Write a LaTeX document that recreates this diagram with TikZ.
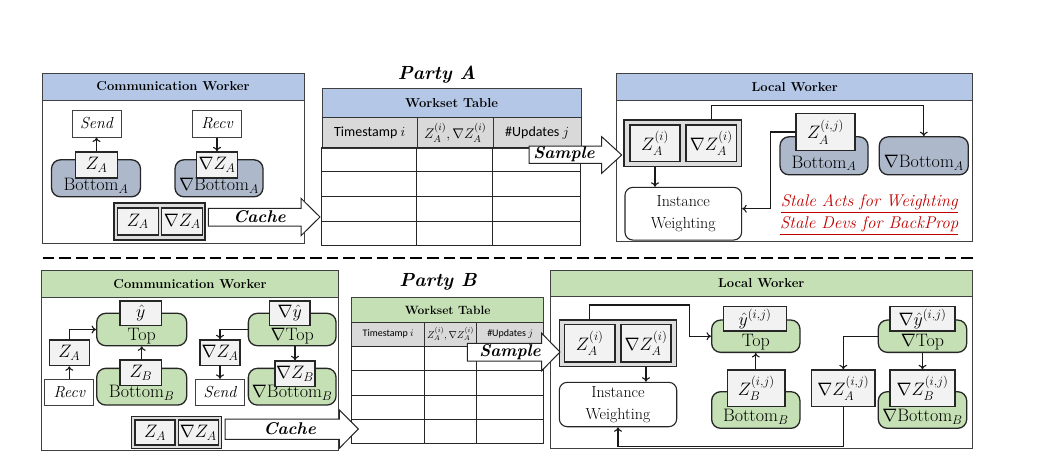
\RequirePackage{fix-cm}
\documentclass[tikz,border=0pt]{standalone}
\usepackage{amsmath, amssymb}
\usepackage{fontspec}
\newfontfamily\calfont{Carlito}
\usepackage{tikz}
\usetikzlibrary{calc, arrows.meta}

\definecolor{hdblue}{HTML}{B4C7E7}
\definecolor{hdgreen}{HTML}{C5E0B4}
\definecolor{blkblue}{HTML}{ADB9CA}
\definecolor{boxfill}{HTML}{F2F2F2}
\definecolor{colgray}{HTML}{D9D9D9}
\definecolor{pairfill}{HTML}{DDDDDD}
\definecolor{stalered}{HTML}{C00000}

\tikzset{
	>={To[length=4.5pt,width=8pt]},
	panel/.style={draw=black!75, line width=0.9pt, fill=white},
	hdr/.style={draw=black!75, line width=0.9pt, font=\fontsize{13}{15}\selectfont\bfseries},
	blk/.style={draw=black!85, line width=1.3pt, rounded corners=9pt},
	blktxt/.style={inner sep=0pt, font=\fontsize{18}{20}\selectfont},
	vbox/.style={draw=black!85, line width=1.3pt, fill=boxfill, inner sep=1pt, font=\fontsize{18}{20}\selectfont},
	tbox/.style={draw=black!75, line width=1pt, fill=white, inner sep=1pt, font=\fontsize{16}{18}\selectfont\itshape},
	pair/.style={draw=black!85, line width=1.3pt, fill=pairfill},
	iwbox/.style={draw=black!85, line width=1.1pt, fill=white, rounded corners=8pt, align=center, font=\fontsize{16}{22}\selectfont},
	conn/.style={->, line width=1.1pt, black!90},
	fatarrow/.style={draw=black!85, line width=1pt, fill=white},
	arrowtxt/.style={inner sep=0pt, font=\fontsize{17}{19}\selectfont\bfseries\itshape},
	title/.style={inner sep=0pt, font=\fontsize{19}{21}\selectfont\bfseries\itshape},
	colhd/.style={draw=black!80, line width=0.9pt, fill=colgray, inner sep=0pt},
	grid/.style={draw=black!85, line width=0.9pt},
	stale/.style={inner sep=0pt, text=stalered, font=\fontsize{17}{19}\selectfont\itshape}
}

\begin{document}
\begin{tikzpicture}[x=1pt, y=-1pt]
\useasboundingbox (0,0) rectangle (1042,472);

%%%% Party A
\node[title] (pA) at (437,75) {Party A};

% communication worker A
\node[panel, minimum width=262pt, minimum height=170pt] (cwA) at (173,158) {};
\node[hdr, fill=hdblue, minimum width=262pt, minimum height=27pt, anchor=north] (cwAh) at (cwA.north) {Communication Worker};

\node[tbox, minimum width=49pt, minimum height=27pt] (sendA) at (96.5,123.5) {Send};
\node[tbox, minimum width=49pt, minimum height=27pt] (recvA) at (217,123.5) {Recv};

\node[blk, fill=blkblue, minimum width=89pt, minimum height=37pt] (botA) at (96,178.3) {};
\node[blktxt] (botAt) at (96,186) {Bottom$_A$};
\node[vbox, minimum width=42pt, minimum height=26pt] (zA) at (96.5,165) {$Z_A$};

\node[blk, fill=blkblue, minimum width=88pt, minimum height=37pt] (nbotA) at (219,178.3) {};
\node[blktxt] (nbotAt) at (219,186) {$\nabla$Bottom$_A$};
\node[vbox, minimum width=41pt, minimum height=26pt] (nzA) at (217,165) {$\nabla Z_A$};

\draw[conn] (zA) -- (sendA);
\draw[conn] (recvA) -- (nzA);

\node[pair, minimum width=91pt, minimum height=37pt] (cpA) at (159.5,221.4) {};
\node[vbox, minimum width=41pt, minimum height=27pt] (cpzA) at (137.8,221.4) {$Z_A$};
\node[vbox, minimum width=41pt, minimum height=27pt] (cpnzA) at (182.2,221.4) {$\nabla Z_A$};

% workset table A
\node[hdr, fill=hdblue, minimum width=259pt, minimum height=29pt, anchor=north west] (wtA) at (321.7,88.3) {Workset Table};
\node[colhd, minimum width=95pt, minimum height=30.4pt, anchor=north west] (tsA) at (321.7,117.3) {\calfont\fontsize{14}{16}\selectfont Timestamp $i$};
\node[colhd, minimum width=76pt, minimum height=30.4pt, anchor=north west] (zcA) at (416.7,117.3) {\fontsize{14}{16}\selectfont $Z_A^{(i)},\nabla Z_A^{(i)}$};
\node[colhd, minimum width=88pt, minimum height=30.4pt, anchor=north west] (upA) at (492.7,117.3) {\calfont\fontsize{14}{16}\selectfont \#Updates $j$};
\draw[grid] (321.7,147.7) rectangle (580.7,245);
\foreach \r in {171.7,196.7,221.7}{
	\draw[grid] (321.7,\r) -- (580.7,\r);
}
\foreach \c in {416.7,492.7}{
	\draw[grid] (\c,147.7) -- (\c,245);
}

% local worker A
\node[panel, minimum width=356pt, minimum height=168.4pt] (lwA) at (794.7,157.5) {};
\node[hdr, fill=hdblue, minimum width=356pt, minimum height=26.7pt, anchor=north] (lwAh) at (lwA.north) {Local Worker};

\node[pair, minimum width=117.7pt, minimum height=46.7pt] (pairA) at (682.8,143.3) {};
\node[vbox, minimum width=50pt, minimum height=36.7pt] (zAi) at (655,143.3) {$Z_A^{(i)}$};
\node[vbox, minimum width=50.7pt, minimum height=36.7pt] (nzAi) at (711.3,143.3) {$\nabla Z_A^{(i)}$};
\node[iwbox, minimum width=116.7pt, minimum height=52.7pt] (iwA) at (683.3,213.7) {Instance\\Weighting};

\node[blk, fill=blkblue, minimum width=88pt, minimum height=38pt] (botAl) at (824,155.8) {};
\node[blktxt] (botAlt) at (824,163.3) {Bottom$_A$};
\node[vbox, minimum width=59pt, minimum height=37.4pt] (zAij) at (825.5,132) {$Z_A^{(i,j)}$};

\node[blk, fill=blkblue, minimum width=89pt, minimum height=38pt] (nbotAl) at (923.8,155.8) {};
\node[blktxt] (nbotAlt) at (923.8,162.5) {$\nabla$Bottom$_A$};

\draw[conn] (pairA.north -| nzAi.north) -- ++(0,-14) -| (nbotAl.north);
\draw[conn] (zAij.west) -- ++(-25,0) |- ([yshift=5pt]iwA.east);
\draw[conn] (pairA.south -| zAi.south) -- (iwA.north -| zAi.south);

\node[stale] (stA1) at (869.3,204) {\underline{Stale Acts for Weighting}};
\node[stale] (stA2) at (869.3,226) {\underline{Stale Devs for BackProp}};

% arrows between the parts
\draw[fatarrow] (208.3,208.3) -- (301,208.3) -- (301,198.3) -- (320,217) -- (301,235.7) -- (301,226) -- (208.3,226) -- cycle;
\node[arrowtxt] (cacheA) at (259.5,217) {Cache};
\draw[fatarrow] (529,146) -- (601.7,146) -- (601.7,136.7) -- (621.7,155) -- (601.7,173.3) -- (601.7,163.3) -- (529,163.3) -- cycle;
\node[arrowtxt] (sampleA) at (564,154.5) {Sample};

%%%% separator
\draw[line width=2pt, dash pattern=on 11.7pt off 5pt] (42.7,258.3) -- (973,258.3);

%%%% Party B
\node[title] (pB) at (438,281.7) {Party B};

% communication worker B
\node[panel, minimum width=296.6pt, minimum height=180pt] (cwB) at (190,360) {};
\node[hdr, fill=hdgreen, minimum width=296.6pt, minimum height=27.3pt, anchor=north] (cwBh) at (cwB.north) {Communication Worker};

\node[blk, fill=hdgreen, minimum width=90pt, minimum height=32.4pt] (topB) at (141.7,329.5) {};
\node[blktxt] (topBt) at (141.7,336) {Top};
\node[vbox, minimum width=41.7pt, minimum height=24.7pt] (yhB) at (140.8,313.3) {$\hat{y}$};

\node[blk, fill=hdgreen, minimum width=90pt, minimum height=36.7pt] (botB) at (141.7,386.7) {};
\node[blktxt] (botBt) at (141.7,393) {Bottom$_B$};
\node[vbox, minimum width=41.7pt, minimum height=25.7pt] (zB) at (140.8,372.8) {$Z_B$};

\node[vbox, minimum width=40pt, minimum height=25.7pt] (zAB) at (69.3,352.8) {$Z_A$};
\node[tbox, minimum width=49.3pt, minimum height=25.7pt] (recvB) at (69.3,392.2) {Recv};

\node[blk, fill=hdgreen, minimum width=87.7pt, minimum height=32.4pt] (ntopB) at (292.2,329.5) {};
\node[blktxt] (ntopBt) at (292.2,336) {$\nabla$Top};
\node[vbox, minimum width=40.7pt, minimum height=24.7pt] (nyhB) at (289.7,313.3) {$\nabla\hat{y}$};

\node[blk, fill=hdgreen, minimum width=87.7pt, minimum height=36.7pt] (nbotB) at (292.2,386.7) {};
\node[blktxt] (nbotBt) at (292.2,393) {$\nabla$Bottom$_B$};
\node[vbox, minimum width=40pt, minimum height=25.7pt] (nzB) at (295,373.8) {$\nabla Z_B$};

\node[vbox, minimum width=40pt, minimum height=25.7pt] (nzAB) at (220,352.8) {$\nabla Z_A$};
\node[tbox, minimum width=48.3pt, minimum height=25.7pt] (sendB) at (220,392.2) {Send};

\draw[conn] (recvB) -- (zAB);
\draw[conn] (zAB.north) |- (topB.west);
\draw[conn] (zB.north -| topB.south) -- (topB.south);
\draw[conn] (ntopB.west) -| (nzAB.north);
\draw[conn] (ntopB.south -| nzB.north) -- (nzB.north);
\draw[conn] (nzAB) -- (sendB);

\node[pair, minimum width=90pt, minimum height=31.6pt] (cpB) at (176.7,432.5) {};
\node[vbox, minimum width=40pt, minimum height=25pt] (cpzB) at (155,432.5) {$Z_A$};
\node[vbox, minimum width=40pt, minimum height=25pt] (cpnzB) at (198.3,432.5) {$\nabla Z_A$};

% workset table B
\node[hdr, fill=hdgreen, minimum width=192.3pt, minimum height=24.4pt, anchor=north west, font=\fontsize{12}{14}\selectfont\bfseries] (wtB) at (351,297.3) {Workset Table};
\node[colhd, minimum width=73.3pt, minimum height=24.3pt, anchor=north west] (tsB) at (351,321.7) {\calfont\fontsize{10}{12}\selectfont Timestamp $i$};
\node[colhd, minimum width=51.7pt, minimum height=24.3pt, anchor=north west] (zcB) at (424.3,321.7) {\fontsize{10}{12}\selectfont $Z_A^{(i)},\nabla Z_A^{(i)}$};
\node[colhd, minimum width=67.3pt, minimum height=24.3pt, anchor=north west] (upB) at (476,321.7) {\calfont\fontsize{10}{12}\selectfont \#Updates $j$};
\draw[grid] (351,346) rectangle (543.3,443.3);
\foreach \r in {370,395,419.3}{
	\draw[grid] (351,\r) -- (543.3,\r);
}
\foreach \c in {424.3,476}{
	\draw[grid] (\c,346) -- (\c,443.3);
}

% local worker B
\node[panel, minimum width=422.7pt, minimum height=178.3pt] (lwB) at (761.3,359.2) {};
\node[hdr, fill=hdgreen, minimum width=422.7pt, minimum height=26.7pt, anchor=north] (lwBh) at (lwB.north) {Local Worker};

\node[pair, minimum width=117.4pt, minimum height=46.7pt] (pairB) at (618,343.3) {};
\node[vbox, minimum width=50.7pt, minimum height=37.4pt] (zAiB) at (589.7,343.3) {$Z_A^{(i)}$};
\node[vbox, minimum width=50pt, minimum height=37.4pt] (nzAiB) at (646,343.3) {$\nabla Z_A^{(i)}$};
\node[iwbox, minimum width=117.4pt, minimum height=44.4pt] (iwB) at (618,404.5) {Instance\\Weighting};

\node[blk, fill=hdgreen, minimum width=88.3pt, minimum height=32.3pt] (topL) at (755.8,336.2) {};
\node[blktxt] (topLt) at (755.8,342.5) {Top};
\node[vbox, minimum width=63.4pt, minimum height=24.3pt] (yhij) at (755,318.8) {$\hat{y}^{(i,j)}$};

\node[blk, fill=hdgreen, minimum width=88.3pt, minimum height=36.6pt] (botL) at (755.8,410) {};
\node[blktxt] (botLt) at (755.8,417) {Bottom$_B$};
\node[vbox, minimum width=57.7pt, minimum height=36.7pt] (zBij) at (756.2,388.3) {$Z_B^{(i,j)}$};

\node[blk, fill=hdgreen, minimum width=88.4pt, minimum height=32.3pt] (ntopL) at (922.5,336.2) {};
\node[blktxt] (ntopLt) at (922.5,342.5) {$\nabla$Top};
\node[vbox, minimum width=65pt, minimum height=24.3pt] (nyhij) at (922.5,318.8) {$\nabla\hat{y}^{(i,j)}$};

\node[blk, fill=hdgreen, minimum width=88.4pt, minimum height=36.6pt] (nbotL) at (922.5,410) {};
\node[blktxt] (nbotLt) at (922.5,416.5) {$\nabla$Bottom$_B$};
\node[vbox, minimum width=65pt, minimum height=36.7pt] (nzBij) at (922.5,388.3) {$\nabla Z_B^{(i,j)}$};

\node[vbox, minimum width=63.3pt, minimum height=36.7pt] (nzAij) at (843.3,388.3) {$\nabla Z_A^{(i,j)}$};

\draw[conn] (pairB.north -| zAiB.north) -- ++(0,-14.3) -- ++(100,0) |- (topL.west);
\draw[conn] (pairB.south -| nzAiB.south) -- (iwB.north -| nzAiB.south);
\draw[conn] (zBij.north -| topL.south) -- (topL.south);
\draw[conn] (ntopL.west) -| (nzAij.north);
\draw[conn] (ntopL.south) -- (nzBij.north);
\draw[conn] (nzAij.south) -- ++(0,39) -| (iwB.south);

% arrows between the parts
\draw[fatarrow] (225,419) -- (339.3,419) -- (339.3,410) -- (358.3,429) -- (339.3,448.3) -- (339.3,439.3) -- (225,439.3) -- cycle;
\node[arrowtxt] (cacheB) at (289.7,429) {Cache};
\draw[fatarrow] (467.3,343.3) -- (541.7,343.3) -- (541.7,333.3) -- (560,352) -- (541.7,370.7) -- (541.7,361) -- (467.3,361) -- cycle;
\node[arrowtxt] (sampleB) at (510,352) {Sample};

\end{tikzpicture}
\end{document}
